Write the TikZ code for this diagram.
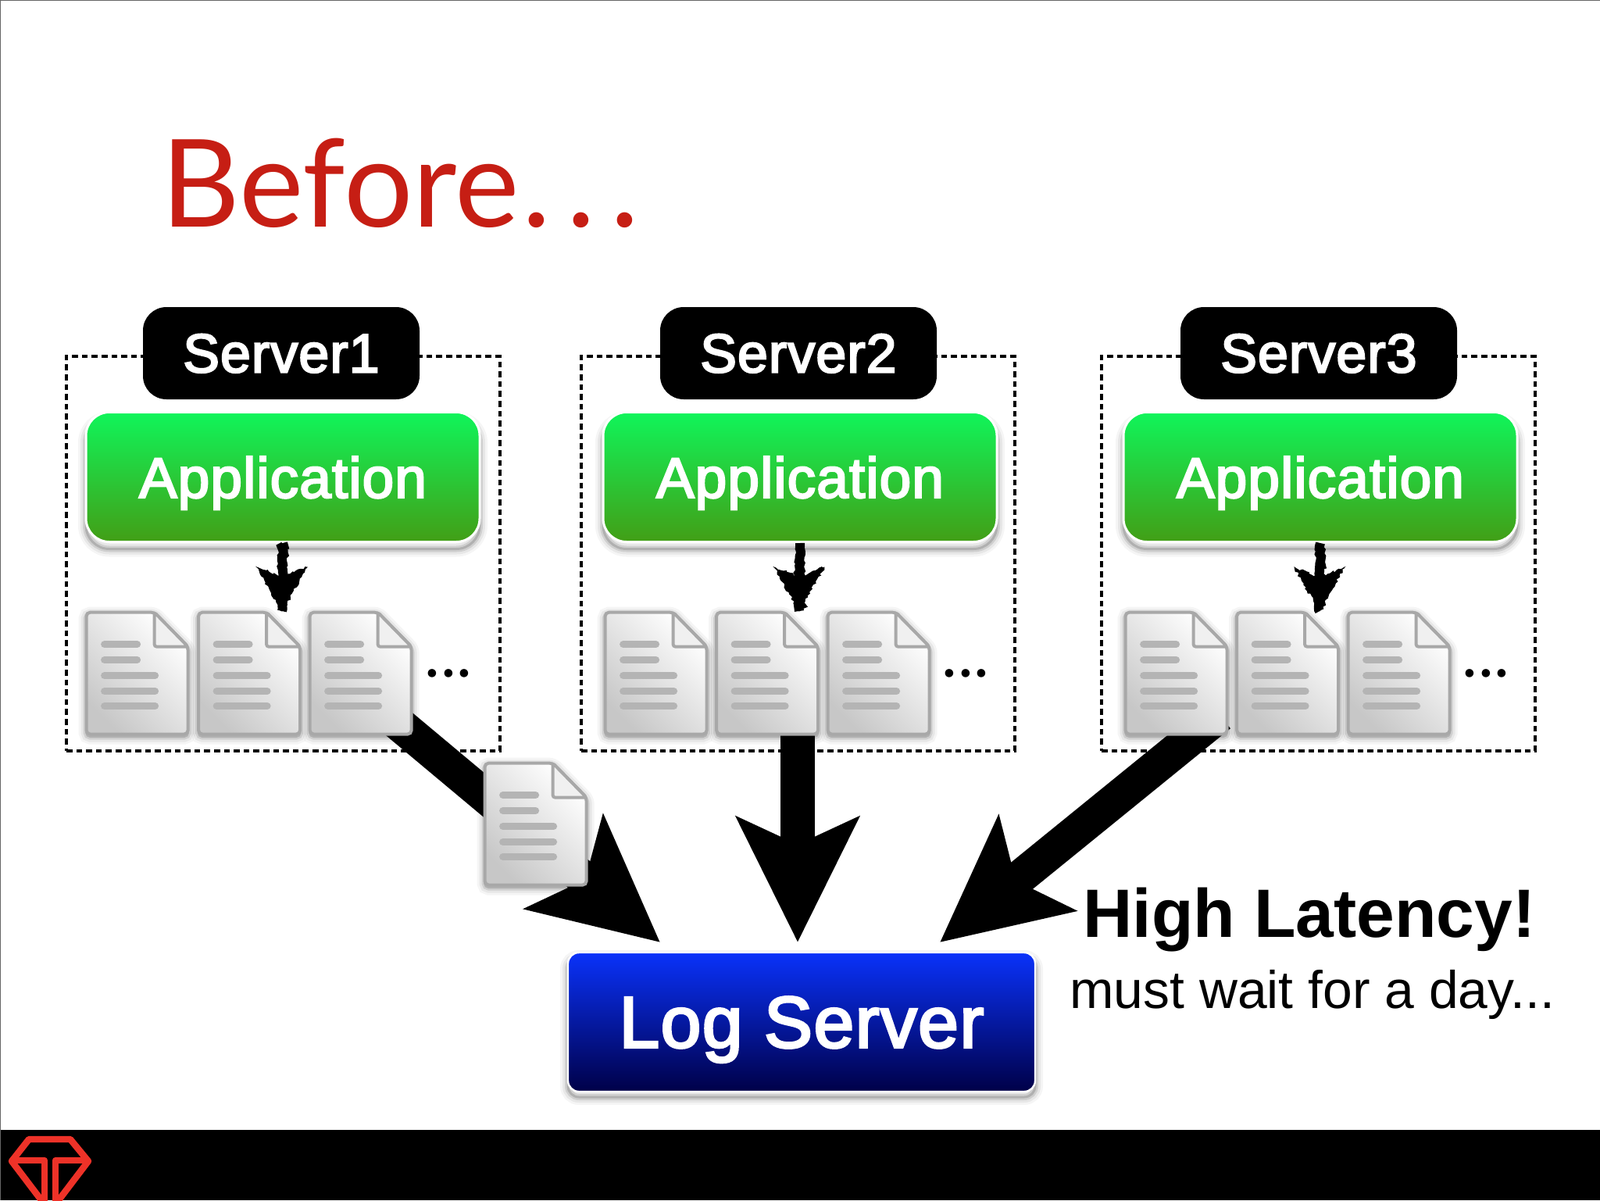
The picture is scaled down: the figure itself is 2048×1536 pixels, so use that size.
\documentclass[tikz,border=0pt]{standalone}
\usepackage{fontspec}
\setmainfont{Liberation Sans}
\newfontfamily\labelfont[FakeBold=3.2,LetterSpace=1.5]{Liberation Sans}
\newfontfamily\titlefont{Lato}
\usetikzlibrary{arrows.meta, positioning, backgrounds, decorations.pathmorphing}
\definecolor{titlered}{RGB}{198,30,20}
\definecolor{logored}{RGB}{238,50,40}
\definecolor{appgreentop}{RGB}{16,245,90}
\definecolor{appgreenbot}{RGB}{66,158,22}
\definecolor{logbluetop}{RGB}{10,50,250}
\definecolor{logbluebot}{RGB}{0,0,72}
\definecolor{fileedge}{RGB}{168,168,168}
\definecolor{fileline}{RGB}{180,180,180}
\tikzset{
    softshadow/.style={
        preaction={draw=black,line width=10pt,opacity=.04,transform canvas={yshift=-#1}},
        preaction={draw=black,line width=7pt,opacity=.06,transform canvas={yshift=-#1}},
        preaction={draw=black,line width=4pt,opacity=.1,transform canvas={yshift=-#1}},
        preaction={draw=black,line width=1.5pt,opacity=.15,transform canvas={yshift=-#1}}},
    serverbox/.style={draw=black,dashed,dash pattern=on 3.8pt off 2.5pt,line width=1.9pt,
        minimum width=277.5pt,minimum height=252.5pt,inner sep=0pt},
    serverlabel/.style={fill=black,rounded corners=15pt,text=white,font=\labelfont\fontsize{35}{35}\selectfont,
        minimum width=177pt,minimum height=59pt,inner sep=0pt,text depth=0pt},
    appbox/.style={softshadow=4.5pt,draw=white,line width=1.5pt,top color=appgreentop,bottom color=appgreenbot,
        rounded corners=15pt,text=white,font=\labelfont\fontsize{36.5}{36.5}\selectfont,
        minimum width=252pt,minimum height=83pt,inner sep=0pt,text depth=0pt},
    logbox/.style={softshadow=3.5pt,draw=white,line width=1.2pt,top color=logbluetop,bottom color=logbluebot,
        rounded corners=7pt,text=white,font=\labelfont\fontsize{46.6}{46.6}\selectfont,
        minimum width=299pt,minimum height=89pt,inner sep=0pt,text depth=0pt},
    filenode/.style={minimum width=65pt,minimum height=78pt,inner sep=0pt},
    filebody/.style={softshadow=1.5pt,draw=fileedge,line width=2pt,rounded corners=2.5pt,
        shading=axis,left color=white,right color=black!22,shading angle=-45},
    filefold/.style={draw=fileedge,line width=2pt,rounded corners=1.5pt,fill=black!6},
    filetext/.style={draw=fileline,line width=4.5pt,line cap=round},
    bigarrow/.style={draw=black,line width=22pt,
        -{Stealth[length=79.5pt,width=77pt,inset=17pt]}},
    roughshaft/.style={draw=black,line width=6pt,decorate,
        decoration={random steps,segment length=1.5pt,amplitude=.7pt}},
    roughhead/.style={fill=black,draw=black,line width=.4pt,decorate,
        decoration={random steps,segment length=1.5pt,amplitude=.9pt}},
    logopath/.style={draw=logored,line width=4.2pt,line join=round}
}
% one document icon, named node plus its drawing
\newcommand{\filedoc}[3]{%
    \node[filenode] (#1) at (#2,#3) {};
    \begin{scope}[shift={(#1.north west)}]
        \path[filebody] (0,0) -- (87,0) -- (130,44) -- (130,156) -- (0,156) -- cycle;
        \path[filefold] (87,0) -- (87,44) -- (130,44) -- cycle;
        \foreach \yy in {41,61}
            \draw[filetext] (23,\yy) -- (65,\yy);
        \foreach \yy in {81,101,120}
            \draw[filetext] (23,\yy) -- (88,\yy);
    \end{scope}}

\begin{document}
\begin{tikzpicture}[x=.5pt,y=-.5pt]
    \useasboundingbox (0,0) rectangle (2048,1536);

    \node[anchor=base west,inner sep=0pt,text=titlered,font=\titlefont\fontsize{78}{78}\selectfont] (title)
        at (206,290) {Before\kern2pt.\kern10pt.\kern10pt.};

    \node[logbox] (logserver) at (1026,1308) {Log Server};

    \foreach \i/\bx/\dx/\fx in {1/0/0/0,2/659/662/2,3/1325/1328/2} {
        \begin{scope}[on background layer]
            \node[serverbox] (box\i) at (362.5+\bx,708.5) {};
        \end{scope}
        \begin{scope}[xshift=\dx*.5pt]
            \node[serverlabel] (srv\i) at (360,452) {Server\i};
            \node[appbox] (app\i) at (362,610.5) {Application};
            \filedoc{file\i a}{176+\fx}{862}
            \filedoc{file\i b}{319.5+.5*\fx}{862}
            \filedoc{file\i c}{462+.5*\fx}{862}
            \node[font=\titlefont\fontsize{42}{42}\selectfont,inner sep=0pt,text depth=0pt] (more\i)
                at (574,862) {.\kern.3pt.\kern.3pt.};
            \coordinate (tip\i) at (361,782);
        \end{scope}
        \draw[roughshaft] (app\i.south) -- (tip\i);
        \fill[roughhead] (tip\i) ++(-32,-56) -- ++(32,13) -- ++(32,-13) -- (tip\i) -- cycle;
    }

    % big arrows go under the files
    \coordinate (tipl) at (845,1206);
    \coordinate (tipm) at (1021,1206);
    \coordinate (tipr) at (1203,1206);
    \begin{scope}[on background layer]
        \draw[bigarrow,shorten <=-20pt] (file1c.south east) -- (tipl);
        \draw[bigarrow,shorten <=-5pt] (tipm |- file2b.south) -- (tipm);
        \draw[bigarrow,shorten <=-20pt] ([xshift=12pt]file3a.south) -- (tipr);
    \end{scope}

    \filedoc{filemove}{686}{1055}

    \node[anchor=base west,inner sep=0pt,font=\bfseries\fontsize{43.8}{43.8}\selectfont] (latency)
        at (1386,1199) {High Latency!};
    \node[anchor=base west,inner sep=0pt,font=\fontsize{33.9}{33.9}\selectfont] (wait)
        at (1369,1290) {must wait for a day...};

    % footer and logo
    \fill[black] (0,1446) rectangle (2048,1536);
    \begin{scope}
        \clip (0,1446) rectangle (2048,1536);
        \draw[logopath] (56,1540) -- (15,1486) -- (37,1458) -- (90,1458) -- (113,1486) -- (72,1540);
        \draw[logopath] (18,1485) -- (57,1485) -- (57,1540);
        \draw[logopath] (110,1485) -- (71,1485) -- (71,1540);
    \end{scope}
    \draw[black!60,line width=1pt] (0,1536) -- (0,0) -- (2048,0);
\end{tikzpicture}
\end{document}
